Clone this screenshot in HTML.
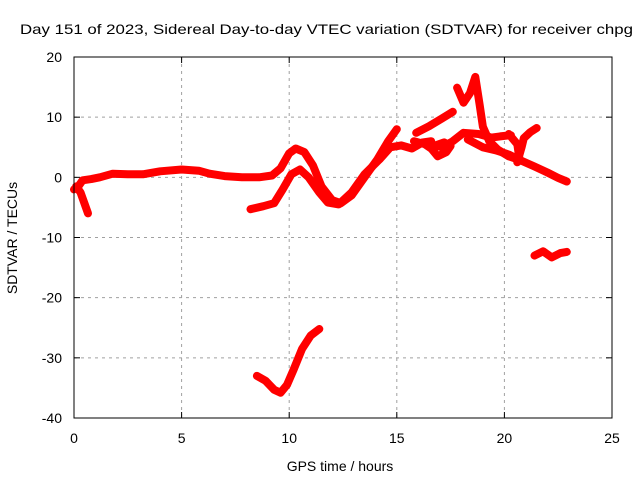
<!DOCTYPE html>
<html><head><meta charset="utf-8"><style>
body{margin:0;background:#fff}
svg text{font-family:"Liberation Sans",sans-serif;font-size:14px;fill:#000}
</style></head><body>
<svg id="chart" width="640" height="480" xmlns="http://www.w3.org/2000/svg">
<rect width="640" height="480" fill="#fff"/>
<text x="20" y="34" textLength="613" lengthAdjust="spacingAndGlyphs">Day 151 of 2023, Sidereal Day-to-day VTEC variation (SDTVAR) for receiver chpg</text>
<text x="340" y="471" text-anchor="middle">GPS time / hours</text>
<text transform="translate(17,238) rotate(-90)" text-anchor="middle">SDTVAR / TECUs</text>
<g id="grid"></g>
<g id="ticks"></g>
<g id="series"></g>
<rect x="74" y="57" width="538" height="361" fill="none" stroke="#000" stroke-width="1"/>
</svg>
<script>
const xTicks=[0,5,10,15,20,25];
const yTicks=[20,10,0,-10,-20,-30,-40];
const sMain=[[0,-2],[0.2,-1.5],[0.4,-0.5],[0.8,-0.3],[1.2,0],[1.8,0.6],[2.5,0.5],[3.2,0.5],[4,1],[5,1.3],[5.8,1.1],[6.3,0.6],[7,0.2],[7.8,0],[8.6,0],[9.2,0.3],[9.6,1.5],[10,4],[10.3,4.8],[10.7,4.2],[11.1,2],[11.5,-1.5],[12,-3.8],[12.4,-4.3],[12.9,-3],[13.5,0],[14.1,3],[14.6,6],[15,8]];
const sEarlyDip=[[0.1,-1.5],[0.3,-2.5],[0.5,-4.5],[0.65,-6]];
const sSecond=[[8.2,-5.3],[8.8,-4.8],[9.3,-4.3],[9.7,-2],[10.1,0.5],[10.5,1.3],[10.9,0],[11.4,-2.5],[11.8,-4.2],[12.3,-4.5],[12.9,-2.5],[13.5,0.5],[14.2,3],[14.7,5],[15.2,5.3],[15.7,4.8],[16.2,5.8],[16.6,6]];
const sLoop=[[15.8,6],[16.3,5.5],[16.6,4.8],[16.9,3.5],[17.3,4.2],[17.5,5.2],[17.2,5.8],[16.8,5.3],[17.1,5],[17.6,6],[18.1,7.4],[18.8,7.2],[19.4,6.6],[19.8,6.8],[20.3,7]];
const sUpper=[[15.9,7.4],[16.5,8.5],[17.1,9.8],[17.6,10.9]];
const sPeak=[[17.8,14.9],[18.1,12.4],[18.4,14],[18.65,16.7],[18.85,12],[19,8.4],[19.3,6],[19.7,4.6],[20.2,3.5],[20.7,2.9]];
const sBand2=[[18.3,6.3],[19,5],[19.6,4.5],[20.2,3.8],[20.7,2.9],[21.4,1.8],[22,0.8],[22.5,-0.1],[22.9,-0.7]];
const sCross=[[20.6,2.5],[20.8,5],[20.9,6.5],[21.2,7.5],[21.5,8.2]];
const sCross2=[[20.2,7.2],[20.6,5.5],[20.7,3]];
const sLow=[[21.4,-13],[21.8,-12.3],[22.2,-13.3],[22.6,-12.6],[22.9,-12.4]];
const sArc=[[8.5,-33],[8.9,-33.8],[9.3,-35.3],[9.6,-35.8],[9.9,-34.5],[10.2,-32],[10.6,-28.5],[11,-26.3],[11.4,-25.2]];
const allSeries=[sMain,sEarlyDip,sSecond,sLoop,sUpper,sPeak,sBand2,sCross,sCross2,sLow,sArc];
const X=t=>74+t*(538/25);
const Y=v=>57+(20-v)*(361/60);
const NS="http://www.w3.org/2000/svg";
const grid=document.getElementById('grid'),ticks=document.getElementById('ticks'),ser=document.getElementById('series');
function mk(tag,attrs,parent){const e=document.createElementNS(NS,tag);for(const k in attrs)e.setAttribute(k,attrs[k]);parent.appendChild(e);return e;}
xTicks.forEach(t=>{
  if(t>0&&t<25){const g=mk('line',{x1:X(t),x2:X(t),y1:57,y2:418,stroke:'#a0a0a0','stroke-dasharray':'3,4'},grid);
  
  }
  mk('line',{x1:X(t),x2:X(t),y1:418,y2:412,stroke:'#000'},ticks);
  mk('line',{x1:X(t),x2:X(t),y1:57,y2:63,stroke:'#000'},ticks);
  const l=mk('text',{x:X(t),y:443,'text-anchor':'middle'},ticks);l.textContent=t;
  
  
});
yTicks.forEach(v=>{
  if(v<20&&v>-40){const g=mk('line',{x1:74,x2:612,y1:Y(v),y2:Y(v),stroke:'#a0a0a0','stroke-dasharray':'3,4'},grid);
  
  }
  mk('line',{x1:74,x2:80,y1:Y(v),y2:Y(v),stroke:'#000'},ticks);
  mk('line',{x1:612,x2:606,y1:Y(v),y2:Y(v),stroke:'#000'},ticks);
  const l=mk('text',{x:62,y:Y(v)+5,'text-anchor':'end'},ticks);l.textContent=v;
  
  
});
allSeries.forEach(s=>{
  const d=s.map((p,i)=>(i?'L':'M')+X(p[0]).toFixed(1)+','+Y(p[1]).toFixed(1)).join('');
  const p=mk('path',{d:d,fill:'none',stroke:'#ff0000','stroke-width':8,'stroke-linejoin':'round','stroke-linecap':'round'},ser);
  
  
});
</script>
</body></html>
